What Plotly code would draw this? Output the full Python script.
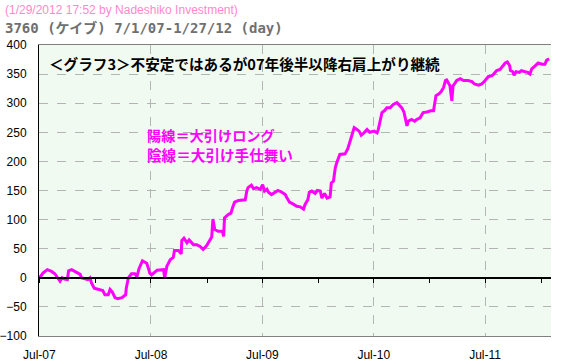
import plotly.graph_objects as go

dates = [
    "2007-07-02", "2007-07-13", "2007-07-27", "2007-08-10", "2007-08-21", "2007-08-30",
    "2007-09-07", "2007-09-14", "2007-09-21", "2007-10-01", "2007-10-05", "2007-10-15",
    "2007-10-31", "2007-11-12", "2007-11-16", "2007-11-28", "2007-12-07", "2007-12-14",
    "2007-12-19", "2007-12-28", "2008-01-16", "2008-01-25", "2008-02-01", "2008-02-12",
    "2008-02-18", "2008-02-25", "2008-03-05", "2008-03-14", "2008-03-28", "2008-04-09",
    "2008-04-11", "2008-04-18", "2008-04-28", "2008-05-09", "2008-05-16", "2008-05-23",
    "2008-06-03", "2008-06-17", "2008-06-24", "2008-06-27", "2008-07-03", "2008-07-21",
    "2008-08-11", "2008-08-15", "2008-08-22", "2008-09-02", "2008-09-12", "2008-09-16",
    "2008-09-29", "2008-10-08", "2008-10-10", "2008-10-17", "2008-10-27", "2008-11-03",
    "2008-11-17", "2008-11-28", "2008-12-09", "2008-12-19", "2008-12-30", "2009-01-09",
    "2009-01-16", "2009-01-20", "2009-01-26", "2009-02-06", "2009-02-20", "2009-02-24",
    "2009-02-27", "2009-03-12", "2009-03-20", "2009-03-25", "2009-04-01", "2009-04-14",
    "2009-04-24", "2009-05-06", "2009-05-11", "2009-05-15", "2009-05-26", "2009-06-02",
    "2009-06-12", "2009-06-24", "2009-07-02", "2009-07-08", "2009-07-16", "2009-07-21",
    "2009-07-31", "2009-08-11", "2009-08-21", "2009-09-03", "2009-09-14", "2009-09-18",
    "2009-09-28", "2009-10-09", "2009-10-22", "2009-11-02", "2009-11-13", "2009-11-18",
    "2009-11-27", "2009-12-02", "2009-12-10", "2009-12-21", "2009-12-28", "2010-01-07",
    "2010-01-12", "2010-01-21", "2010-01-29", "2010-02-08", "2010-02-12", "2010-02-19",
    "2010-02-25", "2010-03-02", "2010-03-08", "2010-03-12", "2010-03-29", "2010-04-07",
    "2010-04-13", "2010-04-20", "2010-04-28", "2010-05-07", "2010-05-14", "2010-05-21",
    "2010-05-28", "2010-06-09", "2010-06-18", "2010-07-02", "2010-07-12", "2010-07-16",
    "2010-07-22", "2010-07-28", "2010-08-05", "2010-08-13", "2010-08-24", "2010-09-03",
    "2010-09-15", "2010-09-24", "2010-10-01", "2010-10-08", "2010-10-14", "2010-10-18",
    "2010-10-22", "2010-11-02", "2010-11-12", "2010-11-19", "2010-11-30", "2010-12-10",
    "2010-12-22", "2011-01-04", "2011-01-13", "2011-01-17", "2011-01-21", "2011-01-31",
    "2011-02-07", "2011-02-15", "2011-02-21", "2011-02-25", "2011-03-03", "2011-03-08",
    "2011-03-14", "2011-03-18", "2011-03-25", "2011-03-30", "2011-04-11", "2011-04-21",
    "2011-05-06", "2011-05-19", "2011-05-27", "2011-06-09", "2011-06-20", "2011-06-29",
    "2011-07-01", "2011-07-12", "2011-07-22", "2011-07-29", "2011-08-08", "2011-08-19",
    "2011-08-29", "2011-09-05", "2011-09-12", "2011-09-20", "2011-09-22", "2011-09-30",
    "2011-10-04", "2011-10-11", "2011-10-21", "2011-10-28", "2011-11-09", "2011-11-18",
    "2011-11-25", "2011-12-01", "2011-12-12", "2011-12-22", "2012-01-04", "2012-01-13",
    "2012-01-19", "2012-01-27",
]

values = [
    0, 8, 14, 11, 7, 0,
    -6, 0, -2, -3, 12, 14,
    10, 6, 0, -2, -3, 0,
    -9, -18, -21, -22, -29, -29,
    -20, -24, -34, -36, -34, -29,
    -18, 0, 7, 7, 2, 16,
    29, 25, 14, 8, 5, 13,
    14, 0, 20, 31, 35, 47,
    47, 41, 64, 68, 60, 65,
    57, 57, 54, 49, 55, 64,
    70, 101, 83, 80, 80, 71,
    103, 109, 111, 120, 130, 133,
    134, 134, 149, 155, 159, 153,
    155, 152, 160, 149, 152, 147,
    143, 146, 150, 147, 143, 139,
    130, 127, 123, 122, 118, 126,
    134, 147, 149, 145, 150, 149,
    137, 145, 137, 139, 163, 166,
    189, 198, 209, 212, 213, 222,
    232, 245, 258, 255, 252, 245,
    248, 255, 250, 252, 249, 255,
    269, 284, 287, 292, 292, 298,
    301, 295, 292, 285, 272, 261,
    269, 272, 269, 272, 275, 284,
    285, 287, 287, 301, 313, 316,
    320, 327, 339, 340, 333, 330,
    304, 330, 335, 339, 342, 339,
    339, 337, 333, 331, 333, 337,
    339, 346, 347, 350, 356, 358,
    364, 369, 371, 364, 356, 354,
    348, 354, 353, 356, 354, 353,
    350, 359, 364, 369, 367, 367,
    374, 376,
]

header_line1 = "(1/29/2012 17:52 by Nadeshiko Investment)"
header_line2 = "3760 (ケイブ) 7/1/07-1/27/12 (day)"
chart_note = "＜グラフ3＞不安定ではあるが07年後半以降右肩上がり継続"
legend_line1 = "陽線＝大引けロング"
legend_line2 = "陰線＝大引け手仕舞い"

x_range = ["2007-06-30", "2012-02-02"]
y_range = [-100, 400]

fig = go.Figure()
fig.add_trace(go.Scatter(
    x=dates, y=values, mode="lines",
    line=dict(color="#ff00ff", width=3),
    showlegend=False, hoverinfo="skip",
))
# invisible companion trace so the zero-line axis (x2) is rendered
fig.add_trace(go.Scatter(
    x=dates, y=values, mode="lines", xaxis="x2",
    line=dict(color="rgba(0,0,0,0)", width=0),
    showlegend=False, hoverinfo="skip",
))

font_base = "Liberation Sans, Arial, sans-serif"
font_cjk = "Noto Sans CJK JP, sans-serif"
font_mono = "DejaVu Sans Mono, Noto Sans CJK JP, monospace"

fig.update_layout(
    width=565, height=363,
    margin=dict(l=39, r=14, t=45, b=27, autoexpand=False),
    paper_bgcolor="white",
    plot_bgcolor="#f0faf0",
    showlegend=False,
    xaxis=dict(
        type="date", range=x_range, automargin=False,
        tick0="2007-07-01", dtick="M12", tickformat="%b-%y",
        showgrid=True, gridcolor="#b4b4b4", griddash="dash", gridwidth=1,
        showline=True, linecolor="#808080", linewidth=1, mirror=True,
        ticks="", ticklabelstandoff=8,
        tickfont=dict(family=font_base, size=12, color="#000"),
        zeroline=False,
    ),
    xaxis2=dict(
        type="date", range=x_range, overlaying="x", anchor="free",
        automargin=False,
        position=(0 - y_range[0]) / (y_range[1] - y_range[0]),
        tick0="2008-01-01", dtick="M6",
        ticks="outside", ticklen=4, tickcolor="#000", tickwidth=1,
        showticklabels=False, showgrid=False, zeroline=False,
        showline=True, linecolor="#000", linewidth=2,
    ),
    yaxis=dict(
        range=y_range, dtick=50, automargin=False,
        showgrid=True, gridcolor="#b4b4b4", griddash="dash", gridwidth=1,
        showline=True, linecolor="#000", linewidth=1,
        ticks="", ticklabelstandoff=9,
        tickfont=dict(family=font_base, size=12, color="#000"),
        zeroline=False,
    ),
)

def px_x(p):
    return (p - 39) / 512.0

def px_y(p):
    return (336 - p) / 291.0

fig.add_annotation(text=header_line1, xref="paper", yref="paper",
                   x=px_x(3), y=px_y(10), xanchor="left", yanchor="middle",
                   showarrow=False, font=dict(family=font_base, size=12, color="#ff88cc"))
fig.add_annotation(text="<b>" + header_line2 + "</b>", xref="paper", yref="paper",
                   x=px_x(3), y=px_y(28), xanchor="left", yanchor="middle",
                   showarrow=False, font=dict(family=font_mono, size=14, color="#707070"))
fig.add_annotation(text="<b>" + chart_note + "</b>", xref="paper", yref="paper",
                   x=px_x(47), y=px_y(63), xanchor="left", yanchor="middle",
                   showarrow=False, font=dict(family=font_cjk, size=14.6, color="#000"))
fig.add_annotation(text="<b>" + legend_line1 + "</b>", xref="paper", yref="paper",
                   x=px_x(145), y=px_y(135), xanchor="left", yanchor="middle",
                   showarrow=False, font=dict(family=font_cjk, size=14.2, color="#ff00ff"))
fig.add_annotation(text="<b>" + legend_line2 + "</b>", xref="paper", yref="paper",
                   x=px_x(145), y=px_y(154), xanchor="left", yanchor="middle",
                   showarrow=False, font=dict(family=font_cjk, size=14.6, color="#ff00ff"))

fig.write_html("out.html", config={"displayModeBar": False},
               post_script="document.body.style.margin='0';")
